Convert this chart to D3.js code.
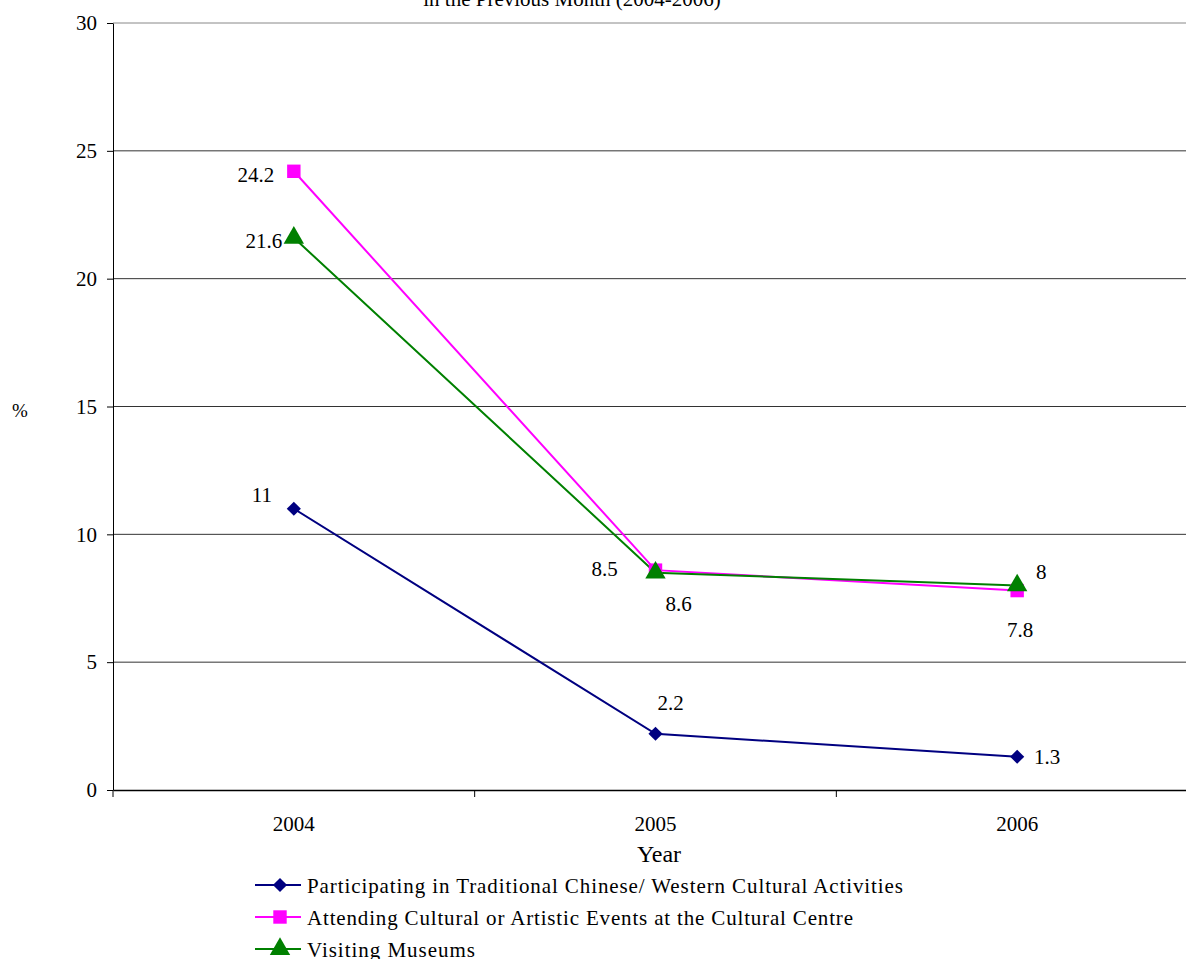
<!DOCTYPE html>
<html>
<head>
<meta charset="utf-8">
<script src="https://cdn.jsdelivr.net/npm/d3@7"></script>
<style>
  body { margin: 0; background: #fff; }
  svg { display: block; }
  svg text { font-family: "Liberation Serif", "Times New Roman", serif; }
</style>
</head>
<body>
<script>
// data
let years = ["2004", "2005", "2006"];
let seriesNames = [
  "Participating in Traditional Chinese/ Western Cultural Activities",
  "Attending Cultural or Artistic Events at the Cultural Centre",
  "Visiting Museums"
];
let traditional = [11, 2.2, 1.3];
let culturalCentre = [24.2, 8.6, 7.8];
let museums = [21.6, 8.5, 8];
let yTicks = [0, 5, 10, 15, 20, 25, 30];

// label offsets per series, per year (dx, dy)
let labelOffsets = [
  [[-32, -14], [15, -31], [30, 0]],
  [[-38, 4], [23, 34], [3, 39]],
  [[-30, 3], [-51, -4], [24, -13]]
];
let legendWidths = [596, 546, 168];
let colors = ["#000080", "#ff00ff", "#008000"];

let diamond = { draw: function(ctx, size) {
  let r = Math.sqrt(size / 2);
  ctx.moveTo(0, -r); ctx.lineTo(r, 0); ctx.lineTo(0, r); ctx.lineTo(-r, 0); ctx.closePath();
}};
let symbols = [diamond, d3.symbolSquare, d3.symbolTriangle];
let symSizes = [100, 180, 180];

let series = [traditional, culturalCentre, museums].map(function(v, i) {
  return { name: seriesNames[i], values: v, color: colors[i], symbol: symbols[i], size: symSizes[i],
           offs: labelOffsets[i], lw: legendWidths[i] };
});

let margin = {top: 23, right: -12, bottom: 169, left: 113},
    width = 1186 - margin.left - margin.right,
    height = 959 - margin.top - margin.bottom;

let svg = d3.select("body").append("svg")
    .attr("width", 1186)
    .attr("height", 959);

let g = svg.append("g")
    .attr("transform", "translate(" + margin.left + "," + margin.top + ")");

let x = d3.scaleBand().domain(years).range([0, width]);
let y = d3.scaleLinear().domain([0, 30]).range([height, 0]);

// title (cut off at top, as in the source)
svg.append("text")
    .attr("x", 572).attr("y", 6)
    .attr("text-anchor", "middle")
    .style("font-size", "21px")
    .text("in the Previous Month (2004-2006)");

// gridlines
g.selectAll(".grid")
  .data(yTicks.filter(function(d) { return d > 0; }))
  .enter().append("line")
    .attr("x1", 0).attr("x2", width)
    .attr("y1", function(d) { return y(d); })
    .attr("y2", function(d) { return y(d); })
    .attr("stroke", function(d) { return d === 30 ? "#888" : "#333"; })
    .attr("stroke-width", 1);

// y axis
let yAxis = g.append("g")
    .call(d3.axisLeft(y).tickValues(yTicks).tickSize(6).tickSizeOuter(0).tickPadding(10));
yAxis.attr("font-family", null);
yAxis.select(".domain").attr("stroke", "#000");
yAxis.selectAll("text").style("font-size", "21px").attr("fill", "#000");

// x axis
let xAxis = g.append("g")
    .attr("transform", "translate(0," + height + ")")
    .call(d3.axisBottom(x).tickSize(0).tickPadding(26));
xAxis.attr("font-family", null);
xAxis.select(".domain").attr("stroke", "#000").attr("stroke-width", 1.5);
xAxis.selectAll("text").style("font-size", "21px").attr("fill", "#000");
g.selectAll(".xtick")
  .data(years)
  .enter().append("line")
    .attr("x1", function(d) { return x(d); })
    .attr("x2", function(d) { return x(d); })
    .attr("y1", height).attr("y2", height + 7)
    .attr("stroke", "#000");

// axis titles
svg.append("text")
    .attr("x", 20).attr("y", 417)
    .attr("text-anchor", "middle")
    .style("font-size", "19px")
    .text("%");
svg.append("text")
    .attr("x", 659).attr("y", 862)
    .attr("text-anchor", "middle")
    .style("font-size", "24px")
    .text("Year");

let cx = function(i) { return x(years[i]) + x.bandwidth() / 2; };

let line = d3.line()
    .x(function(d, i) { return cx(i); })
    .y(function(d) { return y(d); });

series.forEach(function(s) {
  g.append("path")
      .datum(s.values)
      .attr("fill", "none")
      .attr("stroke", s.color)
      .attr("stroke-width", 2)
      .attr("d", line);
});

series.forEach(function(s) {
  g.selectAll(null)
    .data(s.values)
    .enter().append("path")
      .attr("transform", function(d, i) { return "translate(" + cx(i) + "," + y(d) + ")"; })
      .attr("d", d3.symbol().type(s.symbol).size(s.size))
      .attr("fill", s.color);
  g.selectAll(null)
    .data(s.values)
    .enter().append("text")
      .attr("x", function(d, i) { return cx(i) + s.offs[i][0]; })
      .attr("y", function(d, i) { return y(d) + s.offs[i][1]; })
      .attr("text-anchor", "middle")
      .attr("dominant-baseline", "central")
      .style("font-size", "21px")
      .text(function(d) { return d; });
});

// legend
let legend = svg.append("g").attr("transform", "translate(255,885)");
let items = legend.selectAll("g")
  .data(series)
  .enter().append("g")
    .attr("transform", function(d, i) { return "translate(0," + (i * 32) + ")"; });
items.append("line")
    .attr("x1", 0).attr("x2", 46)
    .attr("stroke", function(d) { return d.color; })
    .attr("stroke-width", 2);
items.append("path")
    .attr("transform", "translate(25,0)")
    .attr("d", function(d) { return d3.symbol().type(d.symbol).size(d.size)(); })
    .attr("fill", function(d) { return d.color; });
items.append("text")
    .attr("x", 52).attr("y", 1)
    .attr("dominant-baseline", "central")
    .attr("textLength", function(d) { return d.lw; })
    .attr("lengthAdjust", "spacing")
    .style("font-size", "21px")
    .text(function(d) { return d.name; });
</script>
</body>
</html>
